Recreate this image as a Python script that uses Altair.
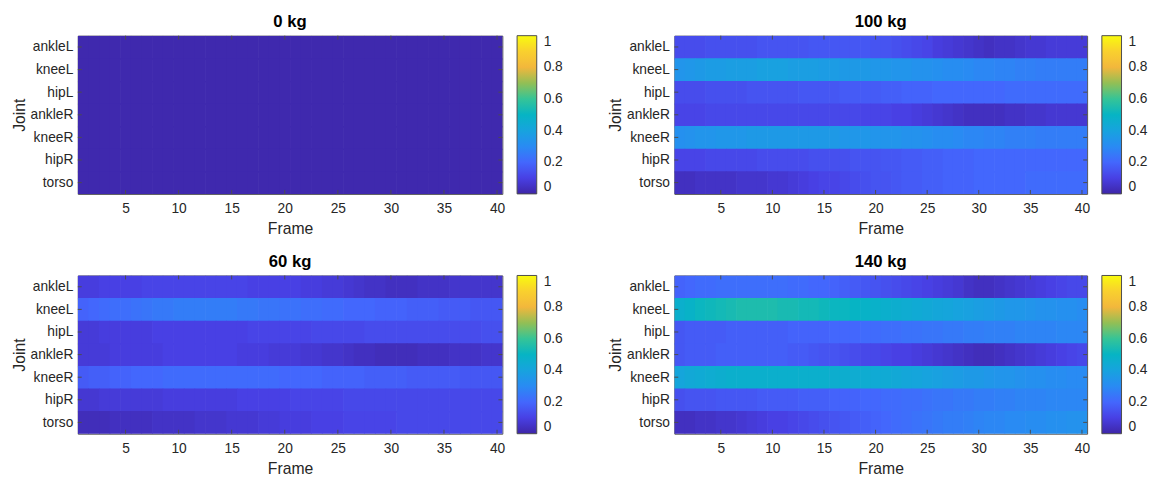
import json
import altair as alt
import pandas as pd

joints = ["ankleL", "kneeL", "hipL", "ankleR", "kneeR", "hipR", "torso"]
frames = list(range(1, 41))
x_ticks = [5, 10, 15, 20, 25, 30, 35, 40]
legend_ticks = [0, 0.2, 0.4, 0.6, 0.8, 1]

# ---------------- 0 kg ----------------
kg0_ankleL = [0.01, 0.01, 0.01, 0.01, 0.01, 0.01, 0.01, 0.01, 0.01, 0.01, 0.01, 0.01, 0.01, 0.01, 0.01, 0.01, 0.01, 0.01, 0.01, 0.01,
              0.01, 0.01, 0.01, 0.01, 0.01, 0.01, 0.01, 0.01, 0.01, 0.01, 0.01, 0.01, 0.01, 0.01, 0.01, 0.01, 0.01, 0.01, 0.01, 0.01]
kg0_kneeL = [0.01, 0.01, 0.01, 0.01, 0.01, 0.01, 0.01, 0.01, 0.01, 0.01, 0.01, 0.01, 0.01, 0.01, 0.01, 0.01, 0.01, 0.01, 0.01, 0.01,
             0.01, 0.01, 0.01, 0.01, 0.01, 0.01, 0.01, 0.01, 0.01, 0.01, 0.01, 0.01, 0.01, 0.01, 0.01, 0.01, 0.01, 0.01, 0.01, 0.01]
kg0_hipL = [0.01, 0.01, 0.01, 0.01, 0.01, 0.01, 0.01, 0.01, 0.01, 0.01, 0.01, 0.01, 0.01, 0.01, 0.01, 0.01, 0.01, 0.01, 0.01, 0.01,
            0.01, 0.01, 0.01, 0.01, 0.01, 0.01, 0.01, 0.01, 0.01, 0.01, 0.01, 0.01, 0.01, 0.01, 0.01, 0.01, 0.01, 0.01, 0.01, 0.01]
kg0_ankleR = [0.01, 0.01, 0.01, 0.01, 0.01, 0.01, 0.01, 0.01, 0.01, 0.01, 0.01, 0.01, 0.01, 0.01, 0.01, 0.01, 0.01, 0.01, 0.01, 0.01,
              0.01, 0.01, 0.01, 0.01, 0.01, 0.01, 0.01, 0.01, 0.01, 0.01, 0.01, 0.01, 0.01, 0.01, 0.01, 0.01, 0.01, 0.01, 0.01, 0.01]
kg0_kneeR = [0.01, 0.01, 0.01, 0.01, 0.01, 0.01, 0.01, 0.01, 0.01, 0.01, 0.01, 0.01, 0.01, 0.01, 0.01, 0.01, 0.01, 0.01, 0.01, 0.01,
             0.01, 0.01, 0.01, 0.01, 0.01, 0.01, 0.01, 0.01, 0.01, 0.01, 0.01, 0.01, 0.01, 0.01, 0.01, 0.01, 0.01, 0.01, 0.01, 0.01]
kg0_hipR = [0.01, 0.01, 0.01, 0.01, 0.01, 0.01, 0.01, 0.01, 0.01, 0.01, 0.01, 0.01, 0.01, 0.01, 0.01, 0.01, 0.01, 0.01, 0.01, 0.01,
            0.01, 0.01, 0.01, 0.01, 0.01, 0.01, 0.01, 0.01, 0.01, 0.01, 0.01, 0.01, 0.01, 0.01, 0.01, 0.01, 0.01, 0.01, 0.01, 0.01]
kg0_torso = [0.01, 0.01, 0.01, 0.01, 0.01, 0.01, 0.01, 0.01, 0.01, 0.01, 0.01, 0.01, 0.01, 0.01, 0.01, 0.01, 0.01, 0.01, 0.01, 0.01,
             0.01, 0.01, 0.01, 0.01, 0.01, 0.01, 0.01, 0.01, 0.01, 0.01, 0.01, 0.01, 0.01, 0.01, 0.01, 0.01, 0.01, 0.01, 0.01, 0.01]

# ---------------- 100 kg ----------------
kg100_ankleL = [0.13, 0.13, 0.13, 0.14, 0.14, 0.14, 0.14, 0.14, 0.15, 0.15, 0.15, 0.15, 0.15, 0.16, 0.16, 0.16, 0.16, 0.16, 0.16, 0.15,
                0.15, 0.14, 0.13, 0.12, 0.11, 0.09, 0.08, 0.07, 0.06, 0.05, 0.04, 0.05, 0.05, 0.06, 0.07, 0.07, 0.08, 0.08, 0.08, 0.08]
kg100_kneeL = [0.34, 0.35, 0.36, 0.37, 0.37, 0.38, 0.38, 0.38, 0.39, 0.39, 0.39, 0.38, 0.38, 0.38, 0.37, 0.37, 0.36, 0.36, 0.36, 0.35,
               0.35, 0.34, 0.34, 0.33, 0.33, 0.32, 0.31, 0.31, 0.30, 0.29, 0.29, 0.28, 0.28, 0.27, 0.27, 0.26, 0.26, 0.26, 0.26, 0.26]
kg100_hipL = [0.13, 0.13, 0.13, 0.14, 0.14, 0.14, 0.14, 0.15, 0.15, 0.15, 0.15, 0.15, 0.16, 0.16, 0.16, 0.16, 0.17, 0.17, 0.17, 0.17,
              0.18, 0.18, 0.19, 0.19, 0.19, 0.20, 0.20, 0.20, 0.20, 0.20, 0.20, 0.20, 0.21, 0.21, 0.21, 0.21, 0.21, 0.21, 0.21, 0.21]
kg100_ankleR = [0.11, 0.11, 0.11, 0.12, 0.12, 0.12, 0.12, 0.12, 0.12, 0.12, 0.12, 0.12, 0.12, 0.12, 0.12, 0.12, 0.12, 0.12, 0.11, 0.11,
                0.11, 0.10, 0.10, 0.09, 0.08, 0.07, 0.06, 0.05, 0.04, 0.04, 0.04, 0.04, 0.05, 0.05, 0.06, 0.06, 0.07, 0.07, 0.07, 0.07]
kg100_kneeR = [0.32, 0.33, 0.34, 0.34, 0.35, 0.35, 0.35, 0.36, 0.36, 0.36, 0.36, 0.36, 0.36, 0.36, 0.36, 0.36, 0.35, 0.35, 0.35, 0.34,
               0.34, 0.34, 0.33, 0.33, 0.32, 0.31, 0.31, 0.30, 0.29, 0.29, 0.28, 0.28, 0.27, 0.27, 0.27, 0.26, 0.26, 0.26, 0.26, 0.26]
kg100_hipR = [0.11, 0.11, 0.11, 0.12, 0.12, 0.12, 0.12, 0.12, 0.13, 0.13, 0.13, 0.13, 0.13, 0.14, 0.14, 0.14, 0.14, 0.15, 0.15, 0.15,
              0.16, 0.16, 0.17, 0.17, 0.18, 0.18, 0.19, 0.19, 0.19, 0.20, 0.20, 0.20, 0.20, 0.20, 0.20, 0.20, 0.20, 0.20, 0.20, 0.20]
kg100_torso = [0.04, 0.04, 0.05, 0.05, 0.05, 0.05, 0.06, 0.06, 0.06, 0.07, 0.07, 0.08, 0.09, 0.10, 0.11, 0.11, 0.12, 0.13, 0.14, 0.15,
               0.15, 0.16, 0.17, 0.17, 0.18, 0.18, 0.19, 0.19, 0.19, 0.20, 0.20, 0.20, 0.20, 0.20, 0.21, 0.21, 0.21, 0.21, 0.21, 0.21]

# ---------------- 60 kg ----------------
kg60_ankleL = [0.09, 0.09, 0.10, 0.10, 0.10, 0.10, 0.11, 0.11, 0.11, 0.11, 0.11, 0.11, 0.11, 0.11, 0.11, 0.11, 0.10, 0.10, 0.10, 0.10,
               0.10, 0.09, 0.09, 0.08, 0.08, 0.07, 0.06, 0.05, 0.05, 0.04, 0.04, 0.04, 0.05, 0.05, 0.05, 0.06, 0.06, 0.06, 0.06, 0.06]
kg60_kneeL = [0.19, 0.20, 0.21, 0.22, 0.22, 0.23, 0.24, 0.25, 0.25, 0.26, 0.26, 0.26, 0.26, 0.26, 0.26, 0.25, 0.25, 0.24, 0.24, 0.23,
              0.23, 0.22, 0.22, 0.21, 0.21, 0.20, 0.20, 0.20, 0.19, 0.19, 0.19, 0.18, 0.18, 0.18, 0.17, 0.17, 0.17, 0.16, 0.16, 0.16]
kg60_hipL = [0.08, 0.08, 0.09, 0.09, 0.09, 0.09, 0.09, 0.10, 0.10, 0.10, 0.10, 0.10, 0.10, 0.10, 0.10, 0.10, 0.11, 0.11, 0.11, 0.11,
             0.11, 0.11, 0.12, 0.12, 0.12, 0.12, 0.12, 0.13, 0.13, 0.13, 0.13, 0.13, 0.13, 0.13, 0.13, 0.13, 0.13, 0.13, 0.14, 0.14]
kg60_ankleR = [0.08, 0.08, 0.08, 0.09, 0.09, 0.09, 0.09, 0.09, 0.10, 0.10, 0.10, 0.10, 0.10, 0.10, 0.10, 0.09, 0.09, 0.09, 0.08, 0.08,
               0.08, 0.07, 0.07, 0.06, 0.06, 0.05, 0.04, 0.04, 0.03, 0.03, 0.03, 0.03, 0.04, 0.04, 0.04, 0.05, 0.05, 0.05, 0.06, 0.06]
kg60_kneeR = [0.17, 0.18, 0.18, 0.19, 0.19, 0.20, 0.20, 0.20, 0.21, 0.21, 0.21, 0.21, 0.21, 0.21, 0.21, 0.21, 0.21, 0.21, 0.21, 0.20,
              0.20, 0.20, 0.20, 0.19, 0.19, 0.19, 0.19, 0.18, 0.18, 0.18, 0.18, 0.17, 0.17, 0.17, 0.17, 0.17, 0.16, 0.16, 0.16, 0.16]
kg60_hipR = [0.07, 0.07, 0.08, 0.08, 0.08, 0.08, 0.08, 0.08, 0.09, 0.09, 0.09, 0.09, 0.09, 0.09, 0.09, 0.10, 0.10, 0.10, 0.10, 0.10,
             0.11, 0.11, 0.11, 0.11, 0.11, 0.12, 0.12, 0.12, 0.12, 0.12, 0.12, 0.12, 0.12, 0.12, 0.12, 0.12, 0.12, 0.12, 0.12, 0.12]
kg60_torso = [0.03, 0.03, 0.03, 0.04, 0.04, 0.04, 0.04, 0.05, 0.05, 0.05, 0.05, 0.06, 0.06, 0.06, 0.07, 0.07, 0.07, 0.08, 0.08, 0.09,
              0.09, 0.09, 0.10, 0.10, 0.10, 0.11, 0.11, 0.11, 0.11, 0.11, 0.12, 0.12, 0.12, 0.12, 0.12, 0.12, 0.12, 0.12, 0.12, 0.12]

# ---------------- 140 kg ----------------
kg140_ankleL = [0.19, 0.20, 0.21, 0.21, 0.22, 0.22, 0.22, 0.22, 0.22, 0.22, 0.22, 0.21, 0.21, 0.20, 0.20, 0.19, 0.18, 0.17, 0.16, 0.15,
                0.14, 0.13, 0.12, 0.11, 0.10, 0.09, 0.08, 0.07, 0.05, 0.04, 0.04, 0.05, 0.06, 0.07, 0.08, 0.09, 0.10, 0.11, 0.12, 0.12]
kg140_kneeL = [0.47, 0.49, 0.51, 0.52, 0.53, 0.54, 0.55, 0.55, 0.55, 0.55, 0.54, 0.54, 0.53, 0.53, 0.52, 0.51, 0.51, 0.50, 0.49, 0.48,
               0.47, 0.46, 0.45, 0.44, 0.43, 0.42, 0.41, 0.40, 0.39, 0.38, 0.37, 0.36, 0.35, 0.35, 0.34, 0.33, 0.33, 0.32, 0.32, 0.31]
kg140_hipL = [0.16, 0.17, 0.17, 0.17, 0.17, 0.18, 0.18, 0.18, 0.18, 0.18, 0.18, 0.19, 0.19, 0.19, 0.19, 0.20, 0.20, 0.20, 0.21, 0.21,
              0.22, 0.22, 0.23, 0.23, 0.24, 0.24, 0.25, 0.25, 0.26, 0.26, 0.27, 0.27, 0.27, 0.28, 0.28, 0.28, 0.28, 0.29, 0.29, 0.29]
kg140_ankleR = [0.16, 0.17, 0.17, 0.17, 0.18, 0.18, 0.18, 0.18, 0.18, 0.18, 0.18, 0.17, 0.17, 0.16, 0.15, 0.15, 0.14, 0.13, 0.12, 0.12,
                0.11, 0.10, 0.10, 0.09, 0.08, 0.07, 0.06, 0.05, 0.04, 0.03, 0.03, 0.04, 0.05, 0.06, 0.07, 0.08, 0.09, 0.10, 0.11, 0.12]
kg140_kneeR = [0.41, 0.43, 0.44, 0.45, 0.46, 0.47, 0.47, 0.47, 0.47, 0.47, 0.47, 0.47, 0.47, 0.47, 0.47, 0.46, 0.46, 0.45, 0.45, 0.44,
               0.44, 0.43, 0.42, 0.41, 0.40, 0.39, 0.38, 0.37, 0.36, 0.36, 0.35, 0.34, 0.34, 0.33, 0.32, 0.32, 0.31, 0.31, 0.30, 0.30]
kg140_hipR = [0.14, 0.15, 0.15, 0.15, 0.16, 0.16, 0.16, 0.16, 0.17, 0.17, 0.17, 0.17, 0.18, 0.18, 0.18, 0.19, 0.19, 0.19, 0.20, 0.20,
              0.21, 0.21, 0.22, 0.22, 0.23, 0.24, 0.24, 0.25, 0.25, 0.26, 0.26, 0.27, 0.27, 0.28, 0.28, 0.28, 0.29, 0.29, 0.29, 0.29]
kg140_torso = [0.04, 0.04, 0.05, 0.05, 0.06, 0.06, 0.07, 0.08, 0.09, 0.10, 0.10, 0.11, 0.12, 0.13, 0.14, 0.15, 0.16, 0.17, 0.18, 0.19,
               0.20, 0.21, 0.22, 0.23, 0.24, 0.25, 0.26, 0.26, 0.27, 0.28, 0.29, 0.29, 0.30, 0.30, 0.31, 0.31, 0.32, 0.32, 0.33, 0.33]

kg0 = [kg0_ankleL, kg0_kneeL, kg0_hipL, kg0_ankleR, kg0_kneeR, kg0_hipR, kg0_torso]
kg100 = [kg100_ankleL, kg100_kneeL, kg100_hipL, kg100_ankleR, kg100_kneeR, kg100_hipR, kg100_torso]
kg60 = [kg60_ankleL, kg60_kneeL, kg60_hipL, kg60_ankleR, kg60_kneeR, kg60_hipR, kg60_torso]
kg140 = [kg140_ankleL, kg140_kneeL, kg140_hipL, kg140_ankleR, kg140_kneeR, kg140_hipR, kg140_torso]

# parula colormap stops
parula_stops = [0.0, 0.1, 0.2, 0.3, 0.4, 0.5, 0.6, 0.7, 0.8, 0.9, 1.0]
parula_colors = ["#3e26a8", "#4840e4", "#4367fd", "#298bf3", "#17a3de", "#06b4c4",
                 "#35c497", "#92bf55", "#f2b73c", "#f9d02e", "#f9fb0e"]

FONT = "Liberation Sans"
TXT = "#262626"
BOX = "#4d4d4d"
joint_label_expr = json.dumps(joints) + "[datum.value]"

X_AXIS = alt.Axis(values=x_ticks, title="Frame", ticks=False, domain=False,
                  grid=False, labelPadding=8, titlePadding=5,
                  labelFont=FONT, titleFont=FONT, labelFontSize=14, titleFontSize=16,
                  labelColor=TXT, titleColor=TXT, titleFontWeight="normal")
Y_AXIS = alt.Axis(values=list(range(len(joints))), labelExpr=joint_label_expr,
                  labelOverlap=False, labelBound=False,
                  title="Joint", ticks=False, domain=False, grid=False, labelPadding=5,
                  titlePadding=3,
                  labelFont=FONT, titleFont=FONT, labelFontSize=14, titleFontSize=16,
                  labelColor=TXT, titleColor=TXT, titleFontWeight="normal")


def panel(title, rows, width, height):
    recs = []
    for r, vals in enumerate(rows):
        for f, v in zip(frames, vals):
            recs.append({"row": r, "Joint": joints[r], "Frame": f, "value": v})
    df = pd.DataFrame(recs)

    xscale = alt.Scale(domain=[0.5, 40.5], nice=False, zero=False)
    yscale = alt.Scale(domain=[-0.5, 6.5], nice=False, zero=False, reverse=True)

    heat = alt.Chart(df).transform_calculate(
        f0="datum.Frame - 0.5", f1="datum.Frame + 0.56",
        r0="datum.row - 0.5", r1="datum.row + 0.56"
    ).mark_rect(clip=True).encode(
        x=alt.X("f0:Q", scale=xscale, axis=X_AXIS),
        x2="f1:Q",
        y=alt.Y("r0:Q", scale=yscale, axis=Y_AXIS),
        y2="r1:Q",
        color=alt.Color("value:Q",
                        scale=alt.Scale(domain=parula_stops, range=parula_colors, interpolate="rgb"),
                        legend=alt.Legend(title=None, values=legend_ticks, format="~g",
                                          orient="right", offset=15,
                                          gradientLength=height, gradientThickness=20,
                                          gradientStrokeColor=BOX, gradientStrokeWidth=1,
                                          labelFontSize=14, labelColor=TXT, labelFont=FONT,
                                          labelOffset=7, direction="vertical")),
        tooltip=["Joint:N", "Frame:Q", "value:Q"],
    )

    xt = pd.DataFrame({"Frame": x_ticks})
    yt = pd.DataFrame({"row": list(range(len(joints)))})
    top_ticks = alt.Chart(xt).mark_rule(color=BOX, strokeWidth=1).encode(
        x=alt.X("Frame:Q", scale=xscale, axis=X_AXIS), y=alt.value(0), y2=alt.value(4))
    bot_ticks = alt.Chart(xt).mark_rule(color=BOX, strokeWidth=1).encode(
        x=alt.X("Frame:Q", scale=xscale, axis=X_AXIS), y=alt.value(height - 4), y2=alt.value(height))
    left_ticks = alt.Chart(yt).mark_rule(color=BOX, strokeWidth=1).encode(
        y=alt.Y("row:Q", scale=yscale, axis=Y_AXIS), x=alt.value(0), x2=alt.value(4))
    right_ticks = alt.Chart(yt).mark_rule(color=BOX, strokeWidth=1).encode(
        y=alt.Y("row:Q", scale=yscale, axis=Y_AXIS), x=alt.value(width - 4), x2=alt.value(width))

    return alt.layer(heat, top_ticks, bot_ticks, left_ticks, right_ticks).properties(
        width=width, height=height,
        title=alt.TitleParams(title, fontSize=17, fontWeight="bold", font=FONT, color="black",
                              anchor="middle", offset=4),
    )


p0 = panel("0 kg", kg0, 432, 161)
p100 = panel("100 kg", kg100, 420, 161)
p60 = panel("60 kg", kg60, 432, 161)
p140 = panel("140 kg", kg140, 420, 161)

top = alt.hconcat(p0, p100, spacing=43).resolve_scale(color="independent")
bottom = alt.hconcat(p60, p140, spacing=43).resolve_scale(color="independent")

chart = alt.vconcat(top, bottom, spacing=16).resolve_scale(color="independent").properties(
    padding={"left": 2, "top": 1, "right": 2, "bottom": 2}, background="white"
).configure_view(
    stroke=BOX, strokeWidth=1
)

chart.save("out.html", embed_options={"renderer": "svg", "actions": False})
